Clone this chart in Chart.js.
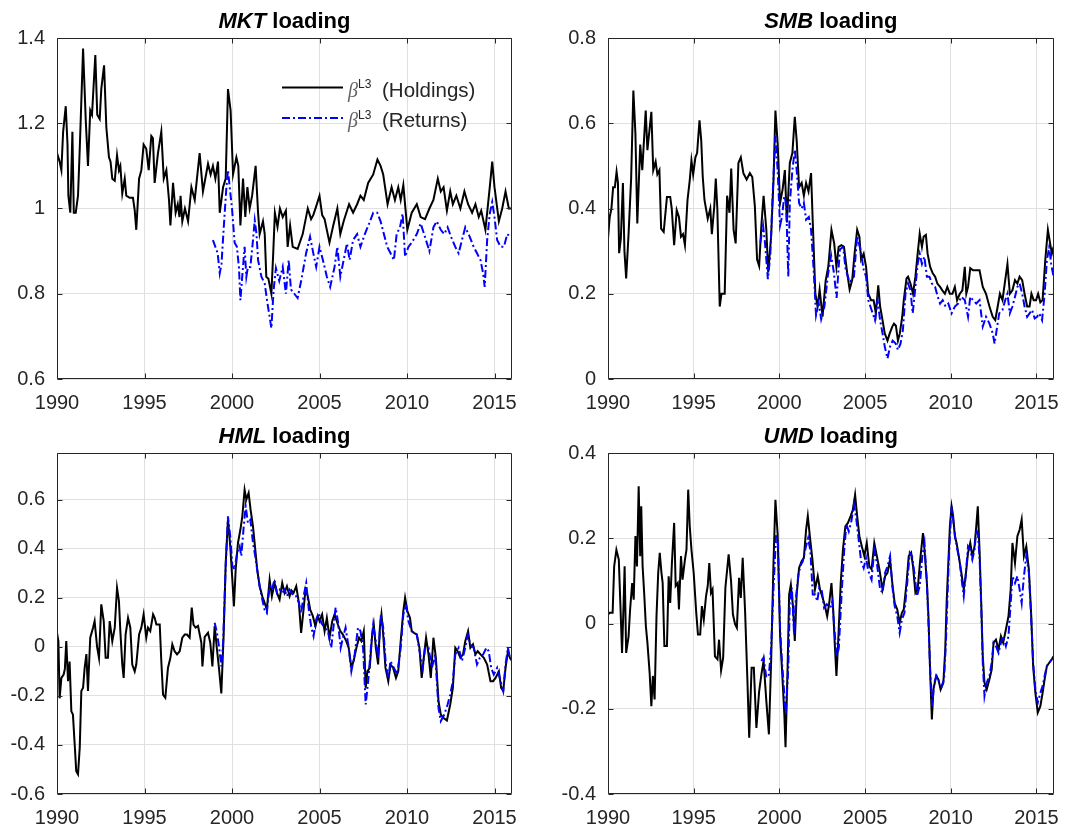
<!DOCTYPE html>
<html>
<head>
<meta charset="utf-8">
<title>Factor loadings</title>
<script src="https://cdn.jsdelivr.net/npm/chart.js@4.4.1/dist/chart.umd.min.js"></script>
<style>
  body { margin: 0; background: #fff; }
  #wrap { position: relative; width: 1071px; height: 832px; }
  canvas { position: absolute; }
</style>
</head>
<body>
<div id="wrap">
  <canvas id="mktChart" width="530" height="415" style="left:0px;top:0px"></canvas>
  <canvas id="smbChart" width="521" height="415" style="left:550px;top:0px"></canvas>
  <canvas id="hmlChart" width="530" height="417" style="left:0px;top:415px"></canvas>
  <canvas id="umdChart" width="521" height="417" style="left:550px;top:415px"></canvas>
</div>
<script>
    // tick labels
    var yearTicks = [1990, 1995, 2000, 2005, 2010, 2015];
    var mktTicks = [0.6, 0.8, 1.0, 1.2, 1.4];
    var smbTicks = [0, 0.2, 0.4, 0.6, 0.8];
    var hmlTicks = [-0.6, -0.4, -0.2, 0, 0.2, 0.4, 0.6];
    var umdTicks = [-0.4, -0.2, 0, 0.2, 0.4];

    var legendLabels = ["(Holdings)", "(Returns)"];

    // [year, loading]
    var mktHoldings = [[1990.0,1.13],[1990.15,1.11],[1990.25,1.09],[1990.35,1.18],[1990.5,1.24],[1990.6,1.15],[1990.65,1.03],[1990.76,0.99],[1990.88,1.18],[1990.96,0.99],[1991.07,0.99],[1991.2,1.03],[1991.3,1.14],[1991.49,1.375],[1991.64,1.21],[1991.77,1.10],[1991.9,1.23],[1992.0,1.22],[1992.19,1.36],[1992.3,1.22],[1992.44,1.21],[1992.53,1.28],[1992.69,1.336],[1992.82,1.19],[1992.97,1.12],[1993.06,1.11],[1993.16,1.07],[1993.3,1.065],[1993.43,1.125],[1993.54,1.09],[1993.62,1.10],[1993.73,1.035],[1993.87,1.07],[1993.96,1.03],[1994.15,1.025],[1994.34,1.025],[1994.44,0.996],[1994.53,0.95],[1994.69,1.07],[1994.82,1.09],[1994.95,1.15],[1995.1,1.14],[1995.24,1.09],[1995.39,1.17],[1995.48,1.165],[1995.58,1.06],[1995.77,1.13],[1995.96,1.18],[1996.1,1.07],[1996.25,1.09],[1996.4,1.02],[1996.48,0.96],[1996.63,1.06],[1996.78,0.99],[1996.9,1.01],[1997.0,0.98],[1997.06,1.03],[1997.16,0.97],[1997.31,1.0],[1997.49,0.97],[1997.68,1.05],[1997.87,1.02],[1998.15,1.13],[1998.34,1.04],[1998.63,1.105],[1998.78,1.08],[1998.91,1.10],[1999.05,1.07],[1999.2,1.11],[1999.3,0.99],[1999.49,1.05],[1999.64,1.07],[1999.77,1.28],[1999.92,1.23],[2000.06,1.08],[2000.25,1.12],[2000.36,1.10],[2000.48,0.96],[2000.63,1.07],[2000.76,0.98],[2000.88,1.05],[2001.01,1.0],[2001.15,1.03],[2001.35,1.10],[2001.49,0.99],[2001.58,0.94],[2001.77,0.97],[2001.87,0.94],[2001.96,0.84],[2002.08,0.835],[2002.25,0.80],[2002.35,0.89],[2002.45,0.99],[2002.6,0.957],[2002.74,1.0],[2002.9,0.98],[2003.08,0.995],[2003.18,0.91],[2003.32,0.96],[2003.47,0.91],[2003.75,0.905],[2004.04,0.94],[2004.33,1.0],[2004.52,0.975],[2004.65,0.985],[2004.81,1.005],[2005.0,1.03],[2005.15,0.985],[2005.29,0.975],[2005.57,0.92],[2005.77,0.957],[2006.02,1.0],[2006.19,0.94],[2006.38,0.97],[2006.69,1.01],[2006.92,0.99],[2007.15,1.01],[2007.34,1.03],[2007.53,1.02],[2007.78,1.06],[2008.07,1.08],[2008.31,1.115],[2008.49,1.1],[2008.64,1.08],[2008.89,1.01],[2009.12,1.05],[2009.31,1.02],[2009.5,1.05],[2009.64,1.02],[2009.79,1.055],[2010.02,0.95],[2010.27,0.99],[2010.56,1.01],[2010.78,0.98],[2011.03,0.975],[2011.28,1.0],[2011.51,1.02],[2011.76,1.07],[2011.93,1.04],[2012.09,1.05],[2012.28,0.995],[2012.47,1.04],[2012.62,1.01],[2012.82,1.03],[2013.05,1.0],[2013.28,1.04],[2013.49,1.01],[2013.72,0.99],[2013.91,1.01],[2014.1,0.98],[2014.24,0.995],[2014.48,0.95],[2014.73,1.05],[2014.87,1.11],[2015.0,1.05],[2015.25,0.97],[2015.44,1.0],[2015.63,1.04],[2015.82,1.0],[2016.0,1.0]];
    var mktReturns = [[1998.91,0.926],[1999.05,0.91],[1999.18,0.895],[1999.3,0.848],[1999.4,0.87],[1999.52,0.95],[1999.68,1.05],[1999.77,1.09],[1999.87,1.05],[2000.0,1.0],[2000.15,0.92],[2000.28,0.91],[2000.4,0.86],[2000.48,0.785],[2000.6,0.848],[2000.72,0.91],[2000.82,0.84],[2000.91,0.863],[2001.05,0.863],[2001.2,0.926],[2001.3,0.972],[2001.4,0.94],[2001.49,0.879],[2001.68,0.84],[2001.87,0.824],[2002.0,0.785],[2002.15,0.746],[2002.25,0.719],[2002.38,0.81],[2002.51,0.86],[2002.7,0.83],[2002.9,0.863],[2003.08,0.80],[2003.24,0.879],[2003.37,0.81],[2003.56,0.80],[2003.75,0.79],[2003.95,0.83],[2004.23,0.894],[2004.46,0.934],[2004.65,0.894],[2004.81,0.863],[2005.0,0.91],[2005.19,0.88],[2005.42,0.84],[2005.61,0.816],[2005.86,0.863],[2006.02,0.91],[2006.19,0.84],[2006.38,0.879],[2006.57,0.918],[2006.72,0.879],[2006.92,0.926],[2007.15,0.94],[2007.34,0.91],[2007.59,0.94],[2007.84,0.965],[2008.07,0.99],[2008.3,0.99],[2008.49,0.97],[2008.68,0.94],[2008.87,0.91],[2009.06,0.895],[2009.25,0.879],[2009.41,0.94],[2009.6,0.956],[2009.75,0.988],[2009.89,0.887],[2010.08,0.91],[2010.27,0.92],[2010.56,0.94],[2010.78,0.965],[2011.03,0.933],[2011.28,0.90],[2011.51,0.956],[2011.7,0.97],[2011.93,0.95],[2012.13,0.94],[2012.32,0.956],[2012.51,0.934],[2012.76,0.91],[2012.95,0.895],[2013.14,0.926],[2013.33,0.956],[2013.58,0.934],[2013.81,0.91],[2014.0,0.895],[2014.2,0.879],[2014.35,0.848],[2014.44,0.816],[2014.58,0.926],[2014.73,0.988],[2014.87,1.015],[2015.0,0.98],[2015.15,0.926],[2015.35,0.91],[2015.54,0.91],[2015.73,0.94],[2015.88,0.934],[2016.0,0.937]];

    var smbHoldings = [[1990.0,0.33],[1990.1,0.38],[1990.2,0.40],[1990.3,0.45],[1990.4,0.45],[1990.5,0.486],[1990.58,0.46],[1990.65,0.295],[1990.75,0.33],[1990.87,0.46],[1990.96,0.30],[1991.06,0.236],[1991.2,0.34],[1991.35,0.47],[1991.48,0.677],[1991.6,0.576],[1991.71,0.365],[1991.88,0.55],[1992.0,0.49],[1992.2,0.63],[1992.3,0.537],[1992.53,0.627],[1992.64,0.49],[1992.78,0.51],[1992.88,0.48],[1993.0,0.49],[1993.1,0.353],[1993.25,0.345],[1993.44,0.427],[1993.63,0.427],[1993.72,0.40],[1993.86,0.314],[1994.01,0.396],[1994.14,0.38],[1994.26,0.334],[1994.38,0.34],[1994.49,0.314],[1994.64,0.42],[1994.77,0.466],[1994.87,0.513],[1994.97,0.48],[1995.1,0.52],[1995.2,0.53],[1995.34,0.607],[1995.44,0.56],[1995.53,0.474],[1995.63,0.42],[1995.82,0.376],[1995.97,0.40],[1996.06,0.34],[1996.2,0.404],[1996.29,0.47],[1996.38,0.40],[1996.52,0.17],[1996.62,0.20],[1996.81,0.20],[1996.95,0.43],[1997.09,0.39],[1997.19,0.494],[1997.33,0.35],[1997.45,0.318],[1997.61,0.507],[1997.75,0.52],[1997.9,0.483],[1998.09,0.468],[1998.28,0.483],[1998.42,0.474],[1998.57,0.405],[1998.7,0.28],[1998.82,0.265],[1998.95,0.36],[1999.08,0.43],[1999.24,0.35],[1999.35,0.25],[1999.52,0.335],[1999.66,0.468],[1999.77,0.63],[1999.9,0.553],[2000.04,0.413],[2000.19,0.445],[2000.32,0.49],[2000.44,0.367],[2000.61,0.507],[2000.76,0.53],[2000.9,0.615],[2001.01,0.56],[2001.15,0.45],[2001.3,0.46],[2001.43,0.43],[2001.56,0.46],[2001.7,0.44],[2001.85,0.483],[2001.95,0.367],[2002.1,0.2],[2002.23,0.17],[2002.35,0.21],[2002.52,0.146],[2002.7,0.23],[2002.86,0.265],[2003.04,0.35],[2003.2,0.318],[2003.33,0.263],[2003.46,0.31],[2003.62,0.314],[2003.77,0.31],[2003.96,0.248],[2004.1,0.21],[2004.25,0.232],[2004.39,0.294],[2004.54,0.35],[2004.67,0.334],[2004.77,0.28],[2004.92,0.294],[2005.06,0.263],[2005.19,0.20],[2005.35,0.185],[2005.5,0.185],[2005.63,0.154],[2005.77,0.22],[2005.88,0.17],[2006.02,0.138],[2006.15,0.107],[2006.31,0.09],[2006.44,0.107],[2006.59,0.123],[2006.69,0.13],[2006.8,0.125],[2006.92,0.09],[2007.03,0.107],[2007.17,0.146],[2007.26,0.185],[2007.42,0.236],[2007.51,0.24],[2007.65,0.224],[2007.8,0.20],[2007.94,0.24],[2008.07,0.294],[2008.19,0.341],[2008.32,0.31],[2008.42,0.334],[2008.55,0.338],[2008.65,0.294],[2008.8,0.263],[2008.95,0.248],[2009.09,0.24],[2009.22,0.224],[2009.38,0.216],[2009.51,0.208],[2009.66,0.20],[2009.8,0.216],[2009.95,0.20],[2010.1,0.2],[2010.24,0.216],[2010.37,0.185],[2010.53,0.20],[2010.68,0.208],[2010.82,0.263],[2010.91,0.20],[2011.01,0.216],[2011.14,0.26],[2011.3,0.255],[2011.53,0.255],[2011.68,0.255],[2011.87,0.216],[2012.06,0.20],[2012.26,0.17],[2012.45,0.146],[2012.6,0.138],[2012.74,0.17],[2012.87,0.20],[2013.02,0.185],[2013.18,0.232],[2013.31,0.27],[2013.45,0.20],[2013.6,0.208],[2013.75,0.232],[2013.89,0.224],[2014.02,0.24],[2014.17,0.232],[2014.31,0.20],[2014.46,0.17],[2014.6,0.17],[2014.71,0.20],[2014.84,0.185],[2014.98,0.185],[2015.1,0.20],[2015.23,0.18],[2015.36,0.185],[2015.52,0.28],[2015.67,0.35],[2015.8,0.318],[2015.9,0.294],[2016.0,0.31]];
    var smbReturns = [[1998.89,0.32],[1999.05,0.36],[1999.16,0.32],[1999.33,0.234],[1999.47,0.29],[1999.62,0.444],[1999.77,0.57],[1999.9,0.49],[2000.04,0.36],[2000.15,0.38],[2000.29,0.43],[2000.4,0.41],[2000.52,0.24],[2000.61,0.413],[2000.76,0.49],[2000.9,0.538],[2001.01,0.49],[2001.15,0.413],[2001.3,0.40],[2001.43,0.413],[2001.56,0.374],[2001.72,0.38],[2001.85,0.35],[2002.0,0.257],[2002.14,0.15],[2002.29,0.18],[2002.44,0.14],[2002.63,0.17],[2002.82,0.24],[2003.02,0.29],[2003.18,0.25],[2003.34,0.19],[2003.53,0.304],[2003.72,0.31],[2003.87,0.257],[2004.1,0.227],[2004.35,0.24],[2004.54,0.335],[2004.73,0.304],[2004.92,0.257],[2005.06,0.24],[2005.19,0.185],[2005.38,0.162],[2005.58,0.138],[2005.73,0.185],[2005.88,0.138],[2006.02,0.107],[2006.15,0.076],[2006.31,0.048],[2006.46,0.076],[2006.61,0.09],[2006.79,0.083],[2006.92,0.068],[2007.07,0.083],[2007.21,0.115],[2007.36,0.20],[2007.51,0.224],[2007.65,0.208],[2007.78,0.154],[2007.94,0.216],[2008.07,0.27],[2008.19,0.294],[2008.32,0.27],[2008.46,0.287],[2008.61,0.24],[2008.76,0.24],[2008.9,0.224],[2009.09,0.216],[2009.24,0.193],[2009.38,0.177],[2009.53,0.185],[2009.7,0.17],[2009.86,0.177],[2010.05,0.154],[2010.24,0.17],[2010.43,0.177],[2010.62,0.193],[2010.82,0.185],[2011.01,0.146],[2011.14,0.193],[2011.3,0.185],[2011.49,0.177],[2011.68,0.185],[2011.87,0.123],[2012.06,0.146],[2012.26,0.13],[2012.45,0.107],[2012.56,0.083],[2012.68,0.115],[2012.83,0.154],[2013.02,0.162],[2013.18,0.185],[2013.31,0.20],[2013.45,0.154],[2013.6,0.17],[2013.75,0.193],[2013.89,0.216],[2014.02,0.224],[2014.17,0.20],[2014.31,0.17],[2014.46,0.146],[2014.6,0.154],[2014.75,0.162],[2014.9,0.142],[2015.04,0.146],[2015.17,0.154],[2015.33,0.138],[2015.48,0.20],[2015.61,0.278],[2015.75,0.31],[2015.86,0.27],[2016.0,0.24]];

    var hmlHoldings = [[1990.0,0.057],[1990.08,0.023],[1990.15,-0.21],[1990.25,-0.127],[1990.38,-0.113],[1990.45,-0.09],[1990.53,0.023],[1990.63,-0.14],[1990.72,-0.06],[1990.82,-0.263],[1990.91,-0.276],[1991.0,-0.385],[1991.1,-0.507],[1991.2,-0.52],[1991.3,-0.41],[1991.39,-0.18],[1991.49,-0.167],[1991.58,-0.086],[1991.68,-0.03],[1991.77,-0.18],[1991.84,-0.06],[1991.9,0.037],[1992.06,0.078],[1992.15,0.105],[1992.29,0.0],[1992.4,-0.045],[1992.53,0.173],[1992.67,0.105],[1992.78,-0.045],[1992.91,-0.045],[1993.01,0.105],[1993.16,0.023],[1993.3,0.078],[1993.43,0.24],[1993.54,0.186],[1993.62,0.064],[1993.73,-0.072],[1993.81,-0.127],[1993.92,0.05],[1994.06,0.118],[1994.19,0.078],[1994.3,-0.072],[1994.44,-0.1],[1994.53,-0.072],[1994.69,0.05],[1994.82,0.078],[1994.95,0.132],[1995.1,0.037],[1995.2,0.078],[1995.33,0.064],[1995.49,0.132],[1995.58,0.118],[1995.68,0.091],[1995.87,0.091],[1995.96,-0.058],[1996.06,-0.195],[1996.19,-0.208],[1996.34,-0.086],[1996.48,-0.045],[1996.59,0.01],[1996.72,-0.018],[1996.86,-0.031],[1997.01,-0.018],[1997.16,0.037],[1997.3,0.05],[1997.43,0.05],[1997.58,0.037],[1997.7,0.16],[1997.8,0.09],[1997.92,0.078],[1998.06,0.085],[1998.25,0.016],[1998.31,-0.08],[1998.44,0.04],[1998.63,0.057],[1998.76,0.016],[1998.88,-0.08],[1999.01,0.085],[1999.14,-0.01],[1999.26,-0.09],[1999.39,-0.19],[1999.52,0.043],[1999.64,0.34],[1999.77,0.52],[1999.9,0.41],[2000.02,0.274],[2000.11,0.165],[2000.21,0.315],[2000.34,0.423],[2000.48,0.478],[2000.59,0.532],[2000.72,0.64],[2000.82,0.60],[2000.95,0.627],[2001.06,0.56],[2001.2,0.49],[2001.33,0.396],[2001.44,0.315],[2001.58,0.247],[2001.73,0.206],[2001.86,0.18],[2001.99,0.152],[2002.15,0.274],[2002.28,0.206],[2002.43,0.26],[2002.57,0.22],[2002.72,0.193],[2002.87,0.26],[2003.0,0.22],[2003.14,0.247],[2003.29,0.206],[2003.4,0.23],[2003.52,0.22],[2003.67,0.247],[2003.82,0.18],[2003.95,0.057],[2004.09,0.152],[2004.2,0.233],[2004.33,0.206],[2004.47,0.152],[2004.62,0.125],[2004.77,0.084],[2004.9,0.125],[2005.0,0.105],[2005.15,0.132],[2005.29,0.064],[2005.42,0.118],[2005.57,0.037],[2005.73,0.105],[2005.86,0.132],[2006.05,0.091],[2006.19,0.064],[2006.34,0.05],[2006.53,0.023],[2006.67,-0.004],[2006.82,-0.086],[2006.95,-0.058],[2007.11,-0.004],[2007.26,0.037],[2007.39,0.023],[2007.53,0.064],[2007.64,-0.167],[2007.74,-0.1],[2007.87,-0.086],[2008.01,0.05],[2008.1,0.091],[2008.22,-0.004],[2008.35,-0.072],[2008.45,0.078],[2008.54,0.132],[2008.64,0.05],[2008.77,-0.086],[2008.93,-0.14],[2009.06,-0.072],[2009.21,-0.086],[2009.37,-0.127],[2009.5,-0.1],[2009.64,0.023],[2009.79,0.146],[2009.89,0.2],[2010.02,0.146],[2010.17,0.118],[2010.27,0.064],[2010.4,0.057],[2010.56,0.05],[2010.71,-0.004],[2010.84,-0.127],[2010.98,-0.031],[2011.09,0.037],[2011.23,-0.031],[2011.36,-0.127],[2011.51,0.037],[2011.65,-0.045],[2011.8,-0.222],[2011.93,-0.276],[2012.09,-0.29],[2012.28,-0.3],[2012.47,-0.235],[2012.62,-0.167],[2012.76,-0.004],[2012.89,-0.018],[2013.05,-0.045],[2013.2,-0.031],[2013.33,0.023],[2013.49,0.064],[2013.62,-0.004],[2013.77,0.01],[2013.91,-0.031],[2014.04,-0.018],[2014.2,-0.031],[2014.39,-0.045],[2014.58,-0.072],[2014.77,-0.14],[2014.92,-0.14],[2015.06,-0.127],[2015.25,-0.1],[2015.38,-0.167],[2015.5,-0.18],[2015.63,-0.086],[2015.77,-0.018],[2015.88,-0.045],[2016.0,-0.058]];
    var hmlReturns = [[1999.01,0.098],[1999.14,0.057],[1999.26,0.0],[1999.39,-0.08],[1999.49,0.016],[1999.64,0.33],[1999.77,0.532],[1999.9,0.45],[2000.02,0.33],[2000.15,0.315],[2000.29,0.383],[2000.44,0.41],[2000.53,0.37],[2000.67,0.49],[2000.78,0.573],[2000.91,0.505],[2001.05,0.518],[2001.2,0.423],[2001.33,0.369],[2001.44,0.315],[2001.58,0.247],[2001.73,0.193],[2001.86,0.152],[2001.99,0.138],[2002.15,0.247],[2002.28,0.233],[2002.43,0.274],[2002.57,0.22],[2002.72,0.233],[2002.87,0.22],[2003.0,0.233],[2003.14,0.206],[2003.29,0.233],[2003.52,0.206],[2003.67,0.206],[2003.82,0.18],[2003.95,0.138],[2004.09,0.206],[2004.24,0.26],[2004.39,0.152],[2004.52,0.084],[2004.66,0.043],[2004.81,0.111],[2004.96,0.138],[2005.1,0.098],[2005.29,0.078],[2005.48,0.064],[2005.67,-0.004],[2005.92,0.16],[2006.05,0.105],[2006.21,-0.004],[2006.35,0.04],[2006.49,0.078],[2006.67,-0.004],[2006.82,-0.1],[2007.01,-0.031],[2007.2,0.078],[2007.34,0.064],[2007.49,-0.004],[2007.64,-0.235],[2007.78,-0.14],[2007.97,0.023],[2008.07,0.091],[2008.22,0.023],[2008.35,-0.045],[2008.51,0.132],[2008.64,0.078],[2008.79,-0.072],[2008.93,-0.127],[2009.06,-0.058],[2009.25,-0.086],[2009.44,-0.113],[2009.64,-0.004],[2009.79,0.132],[2009.94,0.173],[2010.08,0.105],[2010.27,0.064],[2010.56,0.05],[2010.75,-0.031],[2010.9,-0.086],[2011.03,-0.004],[2011.23,-0.004],[2011.42,-0.086],[2011.61,-0.031],[2011.8,-0.249],[2011.93,-0.303],[2012.13,-0.276],[2012.32,-0.235],[2012.47,-0.195],[2012.62,-0.14],[2012.76,-0.031],[2012.95,-0.004],[2013.14,-0.058],[2013.33,-0.004],[2013.47,0.05],[2013.62,0.01],[2013.81,-0.004],[2014.0,-0.072],[2014.16,-0.045],[2014.35,-0.031],[2014.54,-0.004],[2014.67,-0.018],[2014.81,-0.086],[2014.96,-0.113],[2015.15,-0.086],[2015.35,-0.14],[2015.5,-0.18],[2015.63,-0.072],[2015.77,-0.004],[2015.88,-0.045],[2016.0,-0.05]];

    var umdHoldings = [[1990.0,0.021],[1990.1,0.025],[1990.27,0.025],[1990.36,0.134],[1990.49,0.173],[1990.63,0.15],[1990.72,0.048],[1990.82,-0.069],[1990.91,0.048],[1990.97,0.134],[1991.06,-0.069],[1991.2,-0.03],[1991.29,0.033],[1991.41,0.095],[1991.5,0.056],[1991.6,0.205],[1991.69,0.134],[1991.79,0.322],[1991.88,0.158],[1991.94,0.275],[1992.02,0.134],[1992.11,0.072],[1992.21,-0.006],[1992.3,-0.045],[1992.43,-0.116],[1992.53,-0.194],[1992.62,-0.123],[1992.72,-0.178],[1992.83,0.017],[1992.93,0.119],[1993.02,0.166],[1993.12,0.119],[1993.19,0.095],[1993.29,-0.053],[1993.44,-0.053],[1993.54,0.111],[1993.63,0.048],[1993.73,0.142],[1993.86,0.236],[1993.95,0.088],[1994.07,0.095],[1994.14,0.033],[1994.26,0.158],[1994.35,0.103],[1994.49,0.15],[1994.58,0.173],[1994.68,0.314],[1994.77,0.228],[1994.87,0.173],[1995.0,0.119],[1995.15,0.025],[1995.25,-0.026],[1995.38,-0.026],[1995.48,0.041],[1995.59,0.009],[1995.72,0.064],[1995.82,0.088],[1995.91,0.142],[1996.01,0.072],[1996.1,0.08],[1996.24,-0.077],[1996.39,-0.084],[1996.48,-0.038],[1996.6,-0.11],[1996.72,-0.08],[1996.85,0.084],[1997.04,0.162],[1997.18,0.1],[1997.29,0.021],[1997.42,-0.002],[1997.52,-0.01],[1997.65,0.107],[1997.75,0.06],[1997.86,0.154],[1998.0,0.029],[1998.13,-0.127],[1998.24,-0.268],[1998.38,-0.104],[1998.51,-0.104],[1998.66,-0.245],[1998.82,-0.159],[1998.95,-0.12],[1999.08,-0.088],[1999.24,-0.182],[1999.39,-0.26],[1999.52,-0.088],[1999.66,0.146],[1999.77,0.29],[1999.9,0.209],[2000.04,-0.026],[2000.15,-0.104],[2000.29,-0.213],[2000.36,-0.29],[2000.48,-0.104],[2000.57,0.068],[2000.67,0.091],[2000.8,0.037],[2000.9,-0.041],[2001.01,0.068],[2001.15,0.13],[2001.3,0.146],[2001.43,0.154],[2001.56,0.22],[2001.66,0.252],[2001.8,0.197],[2001.93,0.15],[2002.08,0.08],[2002.24,0.111],[2002.37,0.08],[2002.5,0.064],[2002.66,0.041],[2002.79,0.017],[2002.91,0.048],[2003.04,0.095],[2003.14,0.033],[2003.23,-0.045],[2003.33,-0.123],[2003.43,-0.045],[2003.58,0.095],[2003.71,0.173],[2003.85,0.228],[2004.0,0.236],[2004.16,0.252],[2004.29,0.267],[2004.42,0.302],[2004.54,0.252],[2004.67,0.205],[2004.81,0.181],[2004.96,0.158],[2005.1,0.189],[2005.25,0.134],[2005.38,0.127],[2005.54,0.189],[2005.69,0.158],[2005.84,0.127],[2006.02,0.08],[2006.17,0.111],[2006.31,0.119],[2006.46,0.15],[2006.59,0.095],[2006.73,0.048],[2006.88,0.033],[2007.02,0.002],[2007.15,0.025],[2007.26,0.033],[2007.42,0.095],[2007.55,0.158],[2007.69,0.166],[2007.8,0.134],[2007.94,0.072],[2008.07,0.08],[2008.22,0.15],[2008.38,0.212],[2008.47,0.173],[2008.61,0.095],[2008.7,0.017],[2008.8,-0.116],[2008.9,-0.225],[2008.99,-0.155],[2009.15,-0.123],[2009.28,-0.131],[2009.41,-0.155],[2009.57,-0.139],[2009.68,-0.061],[2009.76,0.048],[2009.86,0.142],[2009.95,0.228],[2010.05,0.275],[2010.14,0.252],[2010.24,0.205],[2010.34,0.189],[2010.47,0.158],[2010.62,0.119],[2010.76,0.08],[2010.87,0.111],[2011.01,0.166],[2011.14,0.189],[2011.26,0.158],[2011.39,0.181],[2011.49,0.228],[2011.58,0.275],[2011.68,0.173],[2011.78,0.048],[2011.87,-0.077],[2011.97,-0.139],[2012.1,-0.155],[2012.26,-0.131],[2012.39,-0.108],[2012.5,-0.045],[2012.64,-0.038],[2012.79,-0.061],[2012.93,-0.03],[2013.06,-0.045],[2013.22,-0.014],[2013.37,0.017],[2013.5,0.08],[2013.6,0.189],[2013.75,0.142],[2013.89,0.205],[2014.02,0.22],[2014.14,0.244],[2014.27,0.158],[2014.41,0.181],[2014.56,0.127],[2014.69,0.025],[2014.81,-0.1],[2014.94,-0.163],[2015.08,-0.209],[2015.23,-0.194],[2015.36,-0.163],[2015.48,-0.131],[2015.61,-0.1],[2015.75,-0.092],[2015.9,-0.084],[2016.0,-0.077]];
    var umdReturns = [[1998.95,-0.088],[1999.08,-0.08],[1999.24,-0.127],[1999.39,-0.12],[1999.52,-0.057],[1999.66,0.084],[1999.81,0.209],[1999.92,0.185],[2000.04,-0.01],[2000.15,-0.088],[2000.29,-0.166],[2000.38,-0.213],[2000.52,-0.104],[2000.61,0.052],[2000.73,0.084],[2000.86,-0.026],[2000.95,0.052],[2001.11,0.115],[2001.26,0.138],[2001.37,0.146],[2001.53,0.177],[2001.68,0.2],[2001.81,0.17],[2001.95,0.068],[2002.1,0.068],[2002.21,0.052],[2002.33,0.084],[2002.48,0.076],[2002.61,0.037],[2002.77,0.045],[2002.96,0.037],[2003.09,0.052],[2003.24,-0.026],[2003.34,-0.08],[2003.47,-0.057],[2003.63,0.068],[2003.78,0.17],[2003.91,0.232],[2004.05,0.216],[2004.2,0.24],[2004.35,0.279],[2004.48,0.248],[2004.62,0.2],[2004.77,0.146],[2004.92,0.13],[2005.06,0.154],[2005.19,0.123],[2005.38,0.103],[2005.54,0.173],[2005.69,0.142],[2005.88,0.08],[2006.02,0.072],[2006.17,0.119],[2006.31,0.134],[2006.46,0.158],[2006.59,0.088],[2006.73,0.041],[2006.88,0.017],[2007.02,-0.022],[2007.15,0.009],[2007.3,0.025],[2007.46,0.095],[2007.61,0.166],[2007.74,0.158],[2007.88,0.119],[2008.03,0.064],[2008.19,0.088],[2008.34,0.158],[2008.47,0.189],[2008.61,0.095],[2008.7,0.002],[2008.8,-0.108],[2008.92,-0.194],[2009.03,-0.139],[2009.18,-0.123],[2009.34,-0.139],[2009.47,-0.147],[2009.61,-0.131],[2009.72,-0.045],[2009.82,0.072],[2009.91,0.173],[2010.05,0.275],[2010.14,0.244],[2010.28,0.197],[2010.39,0.173],[2010.53,0.142],[2010.66,0.095],[2010.76,0.064],[2010.87,0.111],[2011.01,0.181],[2011.14,0.173],[2011.26,0.15],[2011.39,0.173],[2011.49,0.22],[2011.58,0.212],[2011.68,0.158],[2011.78,0.041],[2011.87,-0.092],[2011.97,-0.17],[2012.1,-0.139],[2012.26,-0.123],[2012.39,-0.092],[2012.5,-0.045],[2012.64,-0.053],[2012.79,-0.069],[2012.93,-0.045],[2013.06,-0.03],[2013.22,-0.053],[2013.37,-0.03],[2013.5,0.048],[2013.6,0.111],[2013.75,0.095],[2013.89,0.111],[2014.02,0.08],[2014.14,0.048],[2014.27,0.111],[2014.41,0.158],[2014.56,0.119],[2014.69,0.017],[2014.81,-0.092],[2014.94,-0.155],[2015.08,-0.186],[2015.23,-0.163],[2015.36,-0.147],[2015.48,-0.123],[2015.61,-0.1],[2015.75,-0.092],[2015.9,-0.084]];

    var textColor = '#262626';
    var gridColor = '#e0e0e0';
    var sans = '"Liberation Sans", Arial, sans-serif';

    function toXY(pairs) {
      return pairs.map(function (p) { return { x: p[0], y: p[1] }; });
    }

    function fixedTicks(list) {
      return function (scale) {
        scale.ticks = list.map(function (v) { return { value: v }; });
      };
    }

    // title like "MKT loading" with the factor name in bold italic
    var titlePlugin = {
      id: 'panelTitle',
      afterDraw: function (chart, args, opts) {
        var ctx = chart.ctx;
        var area = chart.chartArea;
        var f1 = 'italic bold 22px ' + sans;
        var f2 = 'bold 22px ' + sans;
        ctx.save();
        ctx.font = f1;
        var w1 = ctx.measureText(opts.name).width;
        ctx.font = f2;
        var w2 = ctx.measureText(' loading').width;
        var x = (area.left + area.right) / 2 - (w1 + w2) / 2;
        ctx.fillStyle = '#000';
        ctx.textBaseline = 'alphabetic';
        ctx.font = f1;
        ctx.fillText(opts.name, x, area.top - 10);
        ctx.font = f2;
        ctx.fillText(' loading', x + w1, area.top - 10);
        ctx.restore();
      }
    };

    // matlab style box with inward tick marks
    var framePlugin = {
      id: 'frame',
      afterDraw: function (chart) {
        var ctx = chart.ctx;
        var a = chart.chartArea;
        var l = Math.round(a.left) + 0.5, r = Math.round(a.right) - 0.5;
        var t = Math.round(a.top) + 0.5, b = Math.round(a.bottom) - 0.5;
        ctx.save();
        ctx.strokeStyle = textColor;
        ctx.lineWidth = 1;
        ctx.beginPath();
        ctx.rect(l, t, r - l, b - t);
        chart.scales.x.ticks.forEach(function (tk) {
          var px = Math.round(chart.scales.x.getPixelForValue(tk.value)) + 0.5;
          ctx.moveTo(px, b); ctx.lineTo(px, b - 5);
          ctx.moveTo(px, t); ctx.lineTo(px, t + 5);
        });
        chart.scales.y.ticks.forEach(function (tk) {
          var py = Math.round(chart.scales.y.getPixelForValue(tk.value)) + 0.5;
          ctx.moveTo(l, py); ctx.lineTo(l + 5, py);
          ctx.moveTo(r, py); ctx.lineTo(r - 5, py);
        });
        ctx.stroke();
        ctx.restore();
      }
    };

    // legend in the MKT panel
    var legendPlugin = {
      id: 'betaLegend',
      afterDraw: function (chart, args, opts) {
        if (!opts.show) return;
        var ctx = chart.ctx;
        var rows = [87.5, 118];
        ctx.save();
        chart.data.datasets.forEach(function (ds, i) {
          var y = rows[i];
          ctx.strokeStyle = ds.borderColor;
          ctx.lineWidth = ds.borderWidth;
          ctx.setLineDash(ds.borderDash || []);
          ctx.beginPath();
          ctx.moveTo(282, y);
          ctx.lineTo(343, y);
          ctx.stroke();
          ctx.setLineDash([]);
          ctx.fillStyle = '#666';
          ctx.textBaseline = 'alphabetic';
          ctx.font = 'italic 20px "Liberation Serif", serif';
          ctx.fillText('\u03B2', 348, y + 9);
          ctx.fillStyle = textColor;
          ctx.font = '12px ' + sans;
          ctx.fillText('L3', 358, y + 0.5);
          ctx.font = '20.5px ' + sans;
          ctx.fillText(legendLabels[i], 382, y + 9);
        });
        ctx.restore();
      }
    };

    function makePanel(id, name, holdings, returns, yTicks, box, showLegend) {
      var ctx = document.getElementById(id).getContext('2d');
      return new Chart(ctx, {
        type: 'line',
        data: {
          datasets: [{
            label: 'Holdings',
            data: toXY(holdings),
            borderColor: '#000000',
            borderWidth: 2,
            pointRadius: 0,
            tension: 0,
            order: 1
          }, {
            label: 'Returns',
            data: toXY(returns),
            borderColor: '#0000ff',
            borderWidth: 2,
            borderDash: [8, 3, 2, 3],
            pointRadius: 0,
            tension: 0,
            order: 0
          }]
        },
        options: {
          responsive: false,
          animation: false,
          devicePixelRatio: 1,
          events: [],
          layout: { padding: { top: 38, right: box.right, left: 0, bottom: 0 } },
          plugins: {
            legend: { display: false },
            tooltip: { enabled: false },
            panelTitle: { name: name },
            betaLegend: { show: showLegend }
          },
          scales: {
            x: {
              type: 'linear',
              min: 1990,
              max: 2016,
              afterBuildTicks: fixedTicks(yearTicks),
              afterFit: function (s) { s.height = box.bottom; },
              grid: { color: gridColor, drawTicks: false },
              border: { display: false },
              ticks: {
                color: textColor,
                font: { family: sans, size: 20 },
                padding: 12,
                autoSkip: false,
                maxRotation: 0,
                callback: function (v) { return String(v); }
              }
            },
            y: {
              min: yTicks[0],
              max: box.yMax,
              afterBuildTicks: fixedTicks(yTicks),
              afterFit: function (s) { s.width = box.left; },
              grid: { color: gridColor, drawTicks: false },
              border: { display: false },
              ticks: {
                color: textColor,
                font: { family: sans, size: 20 },
                padding: 12,
                callback: function (v) { return String(Math.round(v * 10) / 10); }
              }
            }
          }
        },
        plugins: [titlePlugin, framePlugin, legendPlugin]
      });
    }

    var mktChart = makePanel('mktChart', 'MKT', mktHoldings, mktReturns, mktTicks, { left: 57, right: 18, bottom: 36, yMax: 1.4 }, true);
    var smbChart = makePanel('smbChart', 'SMB', smbHoldings, smbReturns, smbTicks, { left: 58, right: 9, bottom: 36, yMax: 0.8 }, false);
    var hmlChart = makePanel('hmlChart', 'HML', hmlHoldings, hmlReturns, hmlTicks, { left: 57, right: 18, bottom: 38, yMax: 0.79 }, false);
    var umdChart = makePanel('umdChart', 'UMD', umdHoldings, umdReturns, umdTicks, { left: 58, right: 9, bottom: 38, yMax: 0.4 }, false);
</script>
</body>
</html>
